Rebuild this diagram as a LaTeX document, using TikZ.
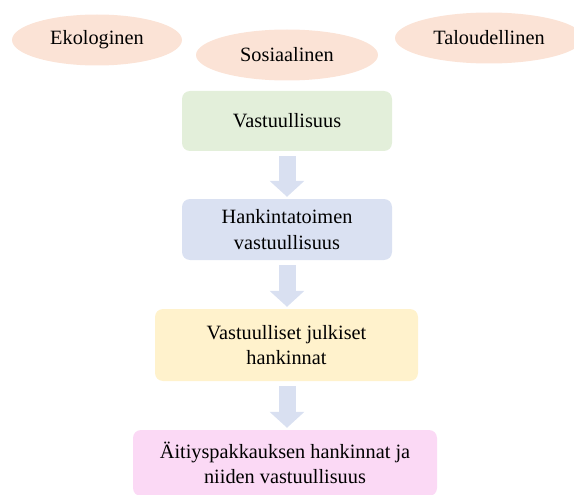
\documentclass[tikz,border=0pt]{standalone}
\usepackage{fontspec}
\setmainfont{Liberation Serif}
\usetikzlibrary{arrows.meta,shapes.geometric}

\definecolor{peche}{HTML}{FBE3D6}
\definecolor{vert}{HTML}{E3EFDA}
\definecolor{bleu}{HTML}{DAE1F2}
\definecolor{jaune}{HTML}{FFF2CC}
\definecolor{rose}{HTML}{FBD9F5}
\definecolor{fleche}{HTML}{D9E0F1}

\tikzset{
    pilier/.style={ellipse, fill=peche, inner sep=0pt},
    boite/.style={rectangle, rounded corners=8pt, align=center, inner sep=0pt},
    flux/.style={draw=fleche, line width=17pt, -{Triangle[width=34pt,length=16pt]}}
}

\begin{document}
\begin{tikzpicture}[x=1pt, y=-1pt, font=\fontsize{20.3}{25.5}\selectfont]

            \useasboundingbox (0,0) rectangle (574,495);

            % Les trois piliers
            \foreach \nom/\x/\y/\l [count=\i] in {Ekologinen/97/40/170, Sosiaalinen/287/55/182, Taloudellinen/489/38/188} {
                \node[pilier, minimum width=\l pt, minimum height=51pt] (p\i) at (\x,\y) {\nom};
            }

            % Les boîtes
            \node[boite, fill=vert, minimum width=210pt, minimum height=60pt] (b1) at (287,121) {Vastuullisuus};
            \node[boite, fill=bleu, minimum width=210pt, minimum height=61pt] (b2) at (287,229.5) {Hankintatoimen\\vastuullisuus};
            \node[boite, fill=jaune, minimum width=263pt, minimum height=72pt] (b3) at (286.5,345) {Vastuulliset julkiset\\hankinnat};
            \node[boite, fill=rose, minimum width=304pt, minimum height=66pt] (b4) at (285,463) {Äitiyspakkauksen hankinnat ja\\niiden vastuullisuus};

            % Les flèches
            \foreach \i in {1,2,3} {
                \pgfmathtruncatemacro{\j}{\i+1}
                \draw[flux, shorten <=5pt, shorten >=2pt] (b1.south |- b\i.south) -- (b1.south |- b\j.north);
            }

\end{tikzpicture}
\end{document}
